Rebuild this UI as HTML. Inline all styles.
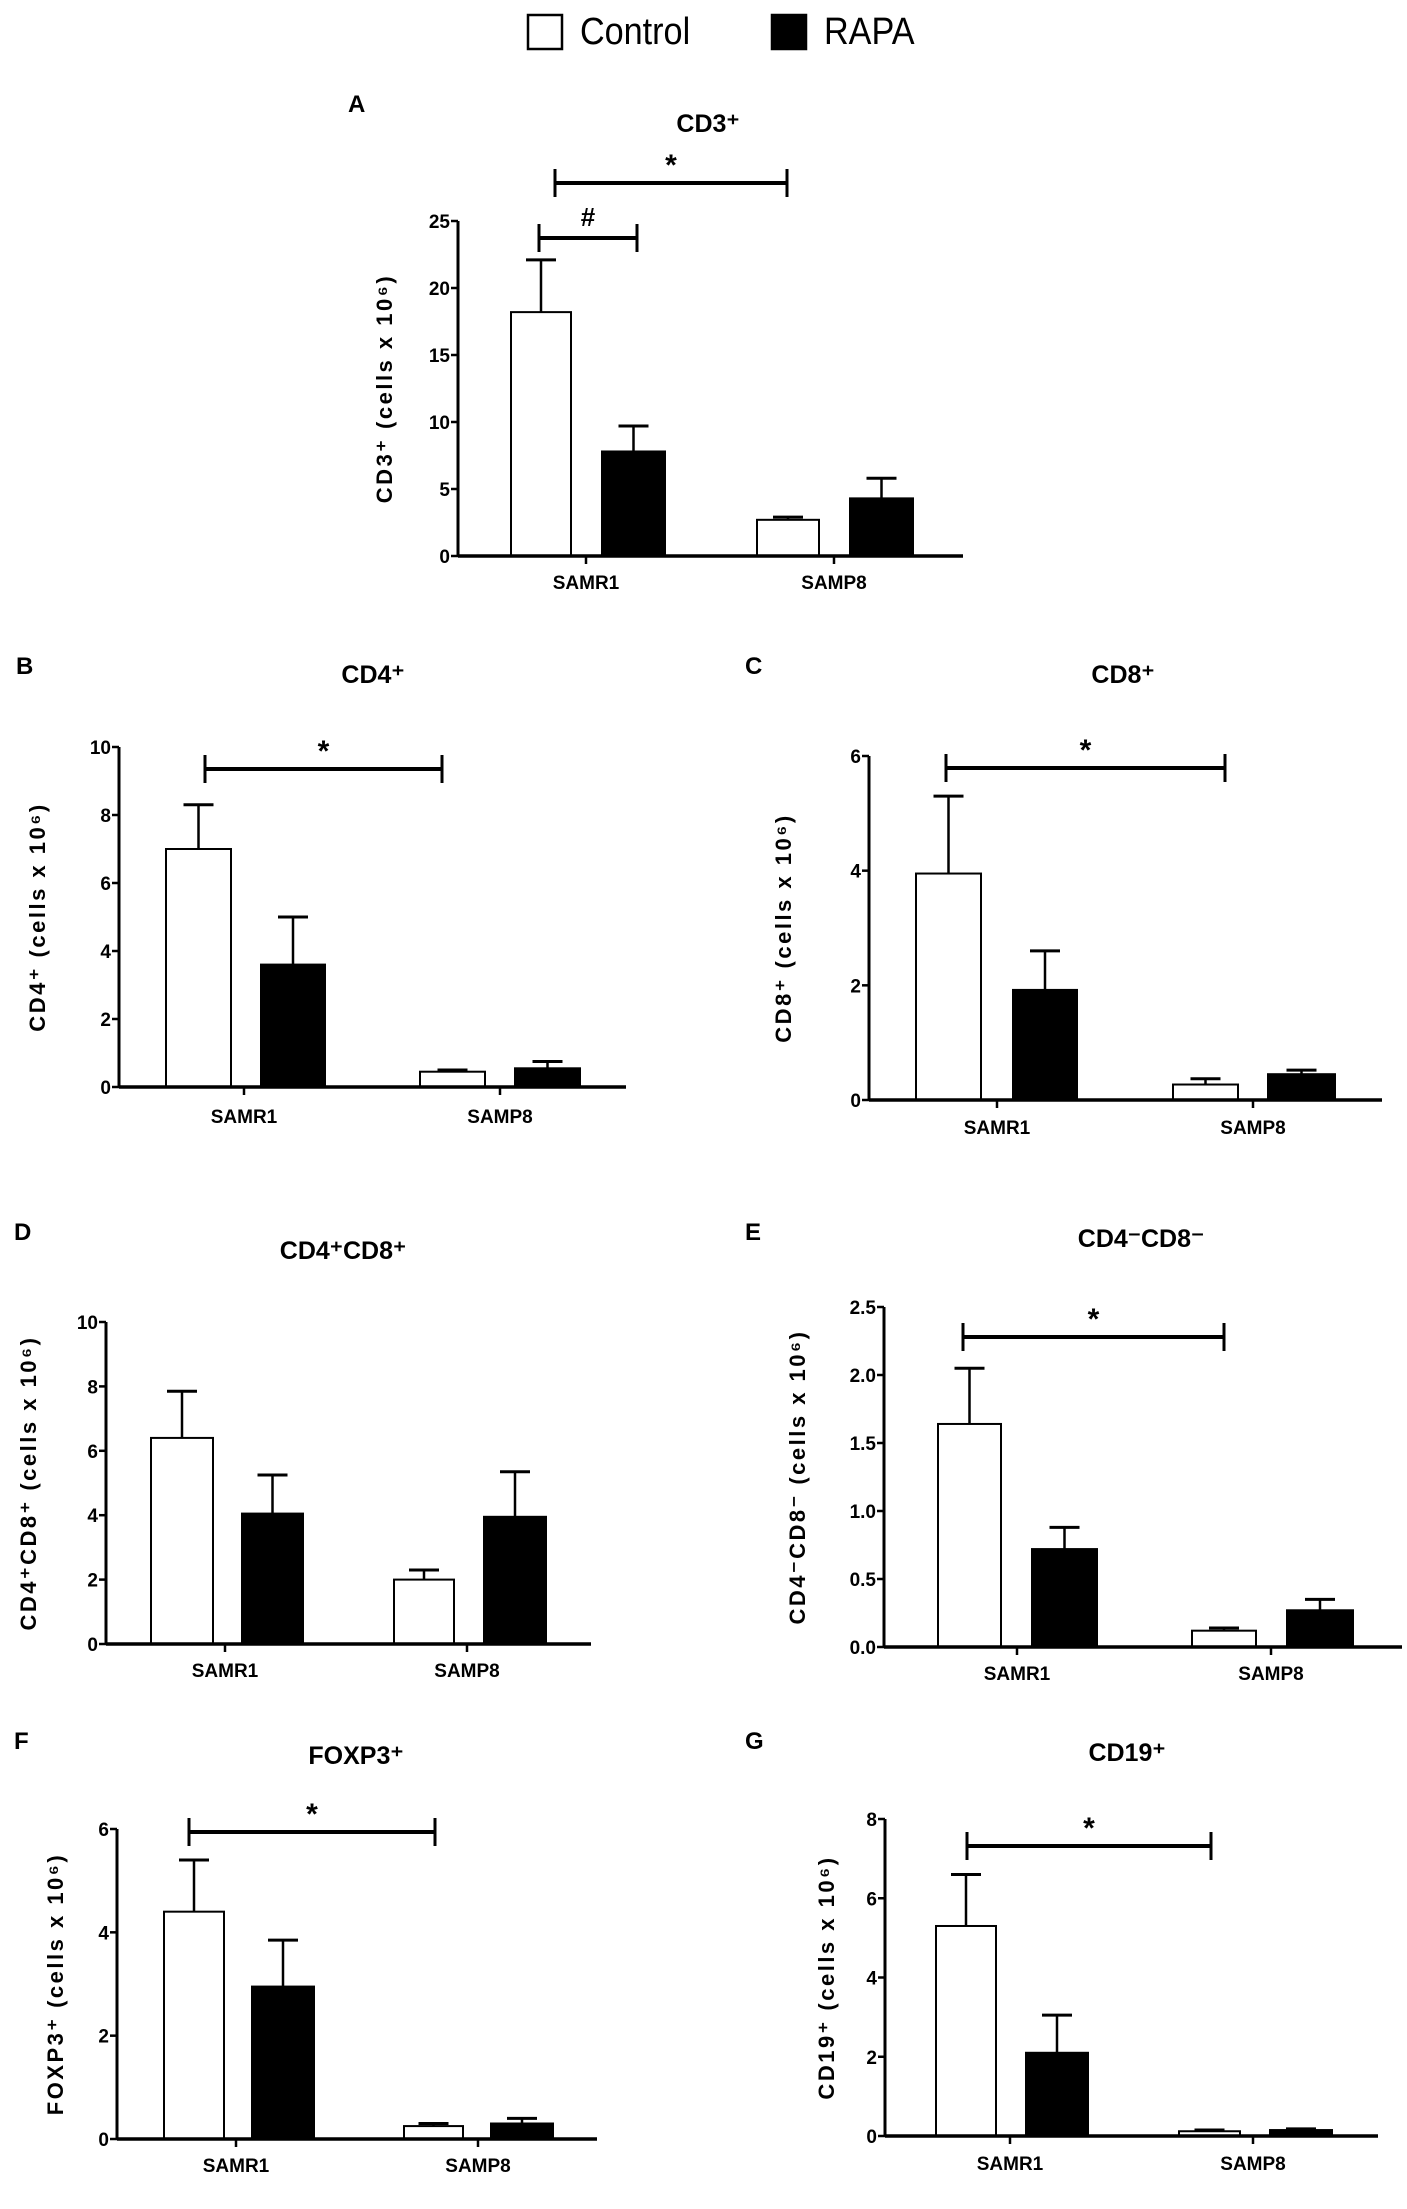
<!DOCTYPE html>
<html><head><meta charset="utf-8">
<style>
html,body{margin:0;padding:0;background:#fff;}
svg{display:block;font-family:"Liberation Sans",Arial,sans-serif;}
</style></head>
<body>
<svg id="fig" width="1407" height="2209" viewBox="0 0 1407 2209" xmlns="http://www.w3.org/2000/svg">
  <g>
    <rect x="528" y="15" width="34" height="34" fill="#fff" stroke="#000" stroke-width="2.5"/>
    <text x="580" y="44" font-size="38" transform="translate(580 0) scale(0.9 1) translate(-580 0)">Control</text>
    <rect x="772" y="15" width="34" height="34" fill="#000" stroke="#000" stroke-width="2.5"/>
    <text x="824" y="44" font-size="38" transform="translate(824 0) scale(0.9 1) translate(-824 0)">RAPA</text>
  </g>
</svg>
<script>
// ---- data ----
const categories = ["SAMR1", "SAMP8"];
const panelLetters = ["A","B","C","D","E","F","G"];
const panelTitles = ["CD3⁺","CD4⁺","CD8⁺","CD4⁺CD8⁺","CD4⁻CD8⁻","FOXP3⁺","CD19⁺"];
const yAxisTitles = ["CD3⁺ (cells x 10⁶)","CD4⁺ (cells x 10⁶)","CD8⁺ (cells x 10⁶)","CD4⁺CD8⁺ (cells x 10⁶)","CD4⁻CD8⁻ (cells x 10⁶)","FOXP3⁺ (cells x 10⁶)","CD19⁺ (cells x 10⁶)"];
const yMax = [25, 10, 6, 10, 2.5, 6, 8];
const yTickLabels = [
  ["0","5","10","15","20","25"],
  ["0","2","4","6","8","10"],
  ["0","2","4","6"],
  ["0","2","4","6","8","10"],
  ["0.0","0.5","1.0","1.5","2.0","2.5"],
  ["0","2","4","6"],
  ["0","2","4","6","8"]
];
const controlMeans = [[18.2,2.7],[7.0,0.45],[3.95,0.27],[6.4,2.0],[1.64,0.12],[4.4,0.25],[5.3,0.12]];
const controlErrTop = [[22.1,2.9],[8.3,0.5],[5.3,0.37],[7.85,2.3],[2.05,0.14],[5.4,0.3],[6.6,0.15]];
const rapaMeans = [[7.8,4.3],[3.6,0.55],[1.92,0.45],[4.05,3.95],[0.72,0.27],[2.95,0.3],[2.1,0.15]];
const rapaErrTop = [[9.7,5.8],[5.0,0.75],[2.6,0.52],[5.25,5.35],[0.88,0.35],[3.85,0.4],[3.05,0.18]];
const sigMarks = ["*","*","*","","*","*","*"];

// ---- layout (pixel geometry, not data) ----
const layout = [
  {ax:458,y0:556,yTop:221,right:963,bars:[[511,571],[602,665],[757,819],[850,913]],xl:[586,834],ly:582,tx:708,ty:123,lx:348,lyL:104,yt:392,sig:[[555,787,183,"*"],[539,637,238,"#"]]},
  {ax:119,y0:1087,yTop:747,right:626,bars:[[166,231],[261,325],[420,485],[515,580]],xl:[244,500],ly:1116,tx:373,ty:674,lx:16,lyL:666,yt:45,sig:[[205,442,769,"*"]]},
  {ax:869,y0:1100,yTop:756,right:1382,bars:[[916,981],[1013,1077],[1173,1238],[1268,1335]],xl:[997,1253],ly:1127,tx:1123,ty:674,lx:745,lyL:666,yt:791,sig:[[946,1225,768,"*"]]},
  {ax:106,y0:1644,yTop:1322,right:591,bars:[[151,213],[242,303],[394,454],[484,546]],xl:[225,467],ly:1670,tx:343,ty:1250,lx:14,lyL:1232,yt:36,sig:[]},
  {ax:884,y0:1647,yTop:1307,right:1402,bars:[[938,1001],[1032,1097],[1192,1256],[1287,1353]],xl:[1017,1271],ly:1673,tx:1141,ty:1238,lx:745,lyL:1232,yt:805,sig:[[963,1224,1337,"*"]]},
  {ax:117,y0:2139,yTop:1829,right:597,bars:[[164,224],[252,314],[404,463],[491,553]],xl:[236,478],ly:2165,tx:356,ty:1755,lx:14,lyL:1741,yt:63,sig:[[189,435,1832,"*"]]},
  {ax:885,y0:2136,yTop:1819,right:1378,bars:[[936,996],[1026,1088],[1179,1240],[1270,1332]],xl:[1010,1253],ly:2163,tx:1127,ty:1752,lx:745,lyL:1741,yt:834,sig:[[967,1211,1846,"*"]]}
];

const NS = "http://www.w3.org/2000/svg";
const svg = document.getElementById("fig");
function mk(tag, attrs, parent){
  const e = document.createElementNS(NS, tag);
  for (const k in attrs) e.setAttribute(k, attrs[k]);
  parent.appendChild(e);
  return e;
}

layout.forEach((L, p) => {
  const g = mk("g", {}, svg);
  
  
  const yScale = v => L.y0 - (v / yMax[p]) * (L.y0 - L.yTop);

  const letter = mk("text", {x:L.lx, y:L.lyL+8, "font-size":24, "font-weight":"bold"}, g);
  letter.textContent = panelLetters[p];
  
  
  const title = mk("text", {x:L.tx, y:L.ty+9, "font-size":25, "font-weight":"bold", "text-anchor":"middle"}, g);
  title.textContent = panelTitles[p];
  
  
  const ymid = (L.y0 + L.yTop) / 2;
  const yt = mk("text", {x:L.yt, y:ymid, "font-size":22, "font-weight":"bold", "text-anchor":"middle", transform:`rotate(-90 ${L.yt} ${ymid})`, "letter-spacing":"2.5"}, g);
  yt.textContent = yAxisTitles[p];
  
  

  const means = [controlMeans[p][0], rapaMeans[p][0], controlMeans[p][1], rapaMeans[p][1]];
  const errs = [controlErrTop[p][0], rapaErrTop[p][0], controlErrTop[p][1], rapaErrTop[p][1]];
  L.bars.forEach((b, i) => {
    const isCtrl = i % 2 === 0;
    const yv = yScale(means[i]);
    const ye = yScale(errs[i]);
    const cx = (b[0] + b[1]) / 2;
    const el = mk("line", {x1:cx, x2:cx, y1:yv, y2:ye, stroke:"#000", "stroke-width":2.5}, g);
    
    
    const cap = mk("line", {x1:cx-15, x2:cx+15, y1:ye, y2:ye, stroke:"#000", "stroke-width":3}, g);
    
    
    const r = mk("rect", {x:b[0], y:yv, width:b[1]-b[0], height:L.y0-yv, fill:isCtrl?"#fff":"#000", stroke:"#000", "stroke-width":2}, g);
    
    
  });

  const ya = mk("line", {x1:L.ax, x2:L.ax, y1:L.yTop, y2:L.y0, stroke:"#000", "stroke-width":3}, g);
  
  
  const xa = mk("line", {x1:L.ax, x2:L.right, y1:L.y0, y2:L.y0, stroke:"#000", "stroke-width":3.5}, g);
  
  

  const n = yTickLabels[p].length;
  yTickLabels[p].forEach((lab, k) => {
    const v = yMax[p] * k / (n - 1);
    const y = yScale(v);
    const t = mk("line", {x1:L.ax-7, x2:L.ax, y1:y, y2:y, stroke:"#000", "stroke-width":2.5}, g);
    
    
    const tx = mk("text", {x:L.ax-8, y:y+7, "font-size":19, "font-weight":"bold", "text-anchor":"end"}, g);
    tx.textContent = lab;
    
    
  });

  categories.forEach((c, k) => {
    const x = L.xl[k];
    const t = mk("line", {x1:x, x2:x, y1:L.y0, y2:L.y0+8, stroke:"#000", "stroke-width":2.5}, g);
    
    
    const tx = mk("text", {x:x, y:L.ly+7, "font-size":19, "font-weight":"bold", "text-anchor":"middle"}, g);
    tx.textContent = c;
    
    
  });

  L.sig.forEach(s => {
    const [x1, x2, y, mark] = s;
    const h = mk("line", {x1:x1, x2:x2, y1:y, y2:y, stroke:"#000", "stroke-width":4}, g);
    
    
    [x1, x2].forEach(x => {
      const v = mk("line", {x1:x, x2:x, y1:y-14, y2:y+14, stroke:"#000", "stroke-width":3}, g);
      
      
    });
    const m = mk("text", {x:(x1+x2)/2, y:y-(mark==="#"?12:8), "font-size":mark==="#"?26:30, "font-weight":"bold", "text-anchor":"middle"}, g);
    m.textContent = mark;
    
    
  });
});
</script>
</body></html>
